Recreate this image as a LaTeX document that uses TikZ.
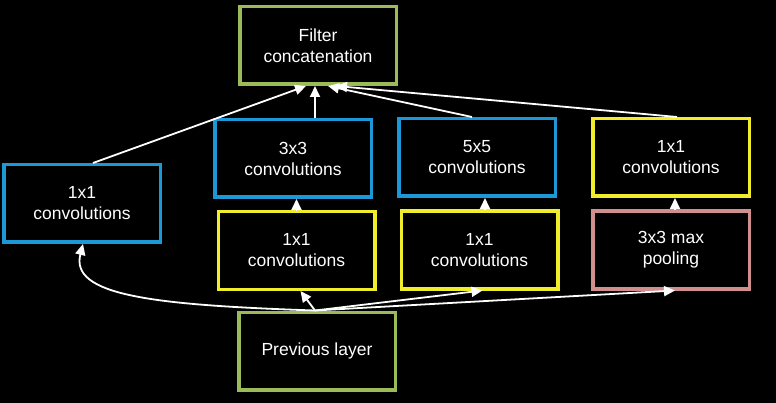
\documentclass[tikz,border=0pt]{standalone}
\usepackage{fontspec}
\setmainfont{Liberation Sans}
\usetikzlibrary{arrows.meta,calc}
\definecolor{bgreen}{RGB}{155,187,89}
\definecolor{bblue}{RGB}{28,152,214}
\definecolor{byellow}{RGB}{240,238,40}
\definecolor{bpink}{RGB}{208,142,142}
\tikzset{
  box/.style={draw, line width=3.5pt, minimum width=156.5pt, minimum height=77.5pt,
    inner sep=0pt, align=center, text=white,
    font=\fontsize{17.5pt}{21pt}\selectfont},
  conn/.style={draw=white, line width=1.8pt, -{Triangle[length=11pt,width=10pt]}},
}
\begin{document}
\begin{tikzpicture}[x=1pt,y=-1pt]
\fill[black] (0,0) rectangle (776,403);
\useasboundingbox (0,0) rectangle (776,403);
\node[box, draw=bgreen] (filter) at (318,45.5) {Filter\\concatenation};
\node[box, draw=bblue] (left1) at (82,203.5) {1x1\\convolutions};
\node[box, draw=bblue] (c3) at (293,158.5) {3x3\\convolutions};
\node[box, draw=byellow] (r3) at (296.5,250.5) {1x1\\convolutions};
\node[box, draw=bblue] (c5) at (477,157.5) {5x5\\convolutions};
\node[box, draw=byellow] (r5) at (479.5,250) {1x1\\convolutions};
\node[box, draw=byellow] (c1) at (671,157.5) {1x1\\convolutions};
\node[box, draw=bpink] (pool) at (671,250) {3x3 max\\pooling};
\node[box, draw=bgreen] (prev) at (317,351) {Previous layer};
% from previous layer
\draw[conn] ([xshift=-2pt]prev.north) .. controls (150,305) and (70,295) .. ([xshift=1pt]left1.south);
\draw[conn] ([xshift=-2pt]prev.north) -- ([xshift=4pt]r3.south);
\draw[conn] ([xshift=-2pt]prev.north) -- ([xshift=3pt]r5.south);
\draw[conn] ([xshift=-2pt]prev.north) -- ([xshift=4pt]pool.south);
% middle
\draw[conn] (r3.north) -- (r3.north |- c3.south);
\draw[conn] ([xshift=5.5pt]r5.north) -- ([xshift=5.5pt]r5.north |- c5.south);
\draw[conn] ([xshift=4pt]pool.north) -- ([xshift=4pt]pool.north |- c1.south);
% to filter
\draw[conn] ([xshift=-3pt]filter.south |- c3.north) -- ([xshift=-3pt]filter.south);
\draw[conn] ([xshift=11pt]left1.north) -- ([xshift=-12pt]filter.south);
\draw[conn] ([xshift=-5pt]c5.north) -- ([xshift=10pt]filter.south);
\draw[conn] ([xshift=6pt]c1.north) -- ([xshift=18pt]filter.south);
\end{tikzpicture}
\end{document}
